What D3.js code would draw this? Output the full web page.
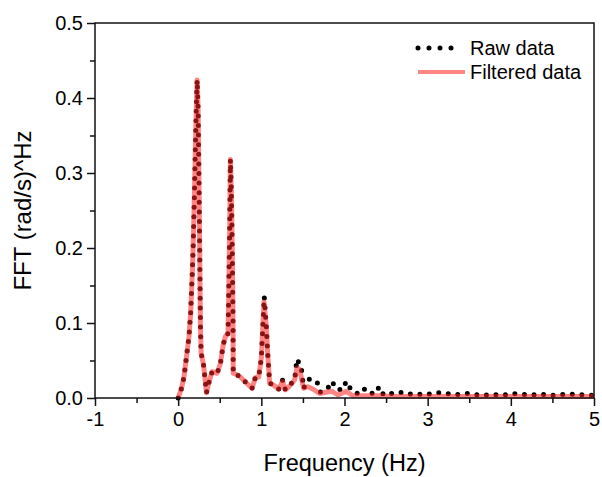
<!DOCTYPE html>
<html>
<head>
<meta charset="utf-8">
<script src="https://cdn.jsdelivr.net/npm/d3@7"></script>
<style>
  html, body { margin: 0; padding: 0; background: #fff; }
  svg { display: block; font-family: "Liberation Sans", Arial, sans-serif; }
</style>
</head>
<body>
<svg id="chart" width="602" height="477"></svg>
<script>
// Raw FFT spectrum (frequency in Hz, amplitude in (rad/s)^Hz)
const rawFreq = [
  0.00, 0.04, 0.07, 0.10, 0.13, 0.15, 0.17, 0.18, 0.196, 0.208, 0.22, 0.228,
  0.24, 0.252, 0.26, 0.268, 0.276, 0.308, 0.34, 0.368, 0.408, 0.468, 0.508,
  0.54, 0.568, 0.60, 0.608, 0.62, 0.628, 0.64, 0.652, 0.66, 0.662, 0.708,
  0.748, 0.82, 0.888, 0.928, 0.968, 1.00, 1.035, 1.06, 1.076, 1.10, 1.148,
  1.208, 1.256, 1.288, 1.34, 1.40, 1.428, 1.48, 1.508, 1.568, 1.628, 1.668,
  1.708, 1.788, 1.85, 1.90, 1.98, 2.02, 2.09, 2.18, 2.25, 2.35, 2.42, 2.47,
  2.57, 2.66, 2.75, 2.85, 2.97, 3.09, 3.18, 3.27, 3.34, 3.47, 3.56, 3.67,
  3.78, 3.90, 4.00, 4.11, 4.23, 4.36, 4.48, 4.59, 4.70, 4.82, 4.94, 5.00
];
const rawValue = [
  0.000, 0.013, 0.028, 0.055, 0.082, 0.113, 0.167, 0.200, 0.273, 0.340, 0.393, 0.424,
  0.384, 0.273, 0.184, 0.095, 0.060, 0.042, 0.007, 0.020, 0.035, 0.033, 0.046,
  0.070, 0.082, 0.086, 0.140, 0.228, 0.318, 0.273, 0.184, 0.095, 0.033, 0.031,
  0.028, 0.020, 0.013, 0.027, 0.028, 0.053, 0.135, 0.095, 0.060, 0.020, 0.017,
  0.012, 0.024, 0.011, 0.017, 0.024, 0.052, 0.041, 0.013, 0.025, 0.024, 0.022,
  0.008, 0.011, 0.022, 0.012, 0.011, 0.022, 0.009, 0.005, 0.013, 0.005, 0.015, 0.004,
  0.006, 0.008, 0.005, 0.006, 0.004, 0.007, 0.007, 0.005, 0.0045, 0.006, 0.0045, 0.0035,
  0.005, 0.0035, 0.006, 0.005, 0.004, 0.005, 0.0035, 0.0045, 0.005, 0.0045, 0.0035, 0.004
];

// Filtered spectrum
const filtFreq = [
  0.00, 0.04, 0.07, 0.10, 0.13, 0.15, 0.17, 0.18, 0.196, 0.208, 0.22, 0.228,
  0.24, 0.252, 0.26, 0.268, 0.276, 0.308, 0.34, 0.368, 0.408, 0.468, 0.508,
  0.54, 0.568, 0.60, 0.608, 0.62, 0.628, 0.64, 0.652, 0.66, 0.662, 0.708,
  0.748, 0.82, 0.888, 0.928, 0.968, 1.00, 1.032, 1.06, 1.076, 1.10, 1.148,
  1.208, 1.256, 1.288, 1.34, 1.40, 1.428, 1.46, 1.508, 1.56, 1.62, 1.70,
  1.79, 1.85, 1.92, 2.02, 2.10, 2.20, 2.40, 2.60, 3.00, 3.50, 4.00, 4.50, 5.00
];
const filtValue = [
  0.000, 0.013, 0.028, 0.055, 0.082, 0.113, 0.167, 0.200, 0.273, 0.340, 0.393, 0.424,
  0.384, 0.273, 0.184, 0.095, 0.060, 0.042, 0.007, 0.020, 0.035, 0.033, 0.046,
  0.070, 0.082, 0.086, 0.140, 0.228, 0.318, 0.273, 0.184, 0.095, 0.033, 0.031,
  0.028, 0.020, 0.013, 0.027, 0.028, 0.053, 0.128, 0.095, 0.060, 0.020, 0.017,
  0.012, 0.022, 0.011, 0.016, 0.024, 0.040, 0.038, 0.013, 0.015, 0.012, 0.006,
  0.008, 0.009, 0.004, 0.009, 0.003, 0.003, 0.003, 0.002, 0.002, 0.002, 0.002, 0.002, 0.002
];

// Axis ticks
const xMajorTicks = [-1, 0, 1, 2, 3, 4, 5];
const xMinorTicks = [-0.5, 0.5, 1.5, 2.5, 3.5, 4.5];
const yMajorTicks = [0, 0.1, 0.2, 0.3, 0.4, 0.5];
const yMinorTicks = [0.05, 0.15, 0.25, 0.35, 0.45];

const seriesNames = ["Raw data", "Filtered data"];

const svg = d3.select("#chart");
const plotLeft = 95, plotRight = 594, plotTop = 23, plotBottom = 398;

const x = d3.scaleLinear().domain([-1, 5]).range([plotLeft, plotRight]);
const y = d3.scaleLinear().domain([0, 0.5]).range([plotBottom, plotTop]);

const axisColor = "#111";

// Data lines: raw spectrum as a round-dotted line, filtered as a translucent red band
const line = d3.line().x(d => x(d[0])).y(d => y(d[1]));
const rawPts = rawFreq.map((f, i) => [f, rawValue[i]]);
const filtPts = filtFreq.map((f, i) => [f, filtValue[i]]);

svg.append("path")
  .attr("d", line(rawPts))
  .attr("fill", "none")
  .attr("stroke", "#000")
  .attr("stroke-width", 5)
  .attr("stroke-linecap", "round")
  .attr("stroke-dasharray", "0 9.6");

svg.append("path")
  .attr("d", line(filtPts))
  .attr("fill", "none")
  .attr("stroke", "#ff2020")
  .attr("stroke-opacity", 0.55)
  .attr("stroke-width", 5)
  .attr("stroke-linejoin", "round");

// Axes (plain hyphen for negative labels)
const fmtX = d => String(d);
const xAxis = d3.axisBottom(x).tickValues(xMajorTicks).tickSize(8).tickPadding(6)
  .tickFormat(fmtX);
const xMinor = d3.axisBottom(x).tickValues(xMinorTicks).tickSize(5).tickFormat("");
const yAxis = d3.axisLeft(y).tickValues(yMajorTicks).tickSize(8).tickPadding(4)
  .tickFormat(d3.format(".1f"));
const yMinor = d3.axisLeft(y).tickValues(yMinorTicks).tickSize(5).tickFormat("");

function styleAxis(g) {
  g.select(".domain").remove();
  g.selectAll(".tick line").attr("stroke", axisColor).attr("stroke-width", 1.5);
  g.selectAll(".tick text").attr("fill", "#000").attr("font-size", 20)
    .attr("font-family", "Liberation Sans, Arial, sans-serif");
}

svg.append("g").attr("transform", `translate(0,${plotBottom})`).call(xAxis).call(styleAxis);
svg.append("g").attr("transform", `translate(0,${plotBottom})`).call(xMinor).call(styleAxis);
svg.append("g").attr("transform", `translate(${plotLeft},0)`).call(yAxis).call(styleAxis);
svg.append("g").attr("transform", `translate(${plotLeft},0)`).call(yMinor).call(styleAxis);

// Frame
svg.append("rect")
  .attr("x", plotLeft).attr("y", plotTop)
  .attr("width", plotRight - plotLeft).attr("height", plotBottom - plotTop)
  .attr("fill", "none").attr("stroke", axisColor).attr("stroke-width", 1.5);

// Axis titles
svg.append("text")
  .attr("x", (plotLeft + plotRight) / 2).attr("y", 471)
  .attr("text-anchor", "middle").attr("font-size", 23.5).attr("fill", "#000")
  .text("Frequency (Hz)");

svg.append("text")
  .attr("transform", `translate(31,${(plotTop + plotBottom) / 2}) rotate(-90)`)
  .attr("text-anchor", "middle").attr("font-size", 24).attr("fill", "#000")
  .text("FFT (rad/s)^Hz");

// Legend
const lg = svg.append("g");
lg.append("line")
  .attr("x1", 418).attr("x2", 462).attr("y1", 48).attr("y2", 48)
  .attr("stroke", "#000").attr("stroke-width", 5)
  .attr("stroke-linecap", "round").attr("stroke-dasharray", "0 11");
lg.append("line")
  .attr("x1", 418).attr("x2", 465).attr("y1", 72).attr("y2", 72)
  .attr("stroke", "#ff2020").attr("stroke-opacity", 0.55).attr("stroke-width", 4);
lg.selectAll("text.leg").data(seriesNames).join("text")
  .attr("class", "leg")
  .attr("x", 470).attr("y", (d, i) => 55 + i * 24)
  .attr("font-size", 20).attr("fill", "#000")
  .text(d => d);
</script>
</body>
</html>
